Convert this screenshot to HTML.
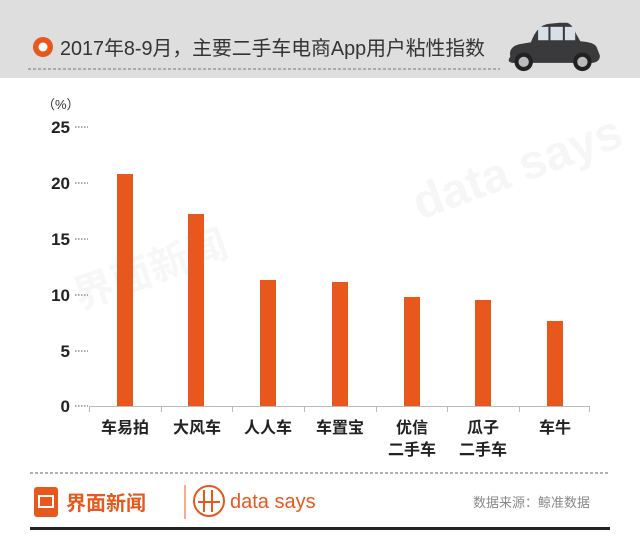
<!DOCTYPE html>
<html><head><meta charset="utf-8"><style>
body{margin:0;width:640px;height:544px;background:#fff;overflow:hidden;font-family:"Liberation Sans","Noto Sans CJK SC",sans-serif}
</style></head><body>
<svg width="640" height="544" xmlns="http://www.w3.org/2000/svg" font-family="Liberation Sans, Noto Sans CJK SC, sans-serif">
<rect x="0" y="0" width="640" height="78" fill="#dedede"/>
<circle cx="43" cy="47" r="10" fill="#e8571c"/>
<circle cx="43" cy="47" r="4.5" fill="#fff"/>
<text x="60" y="55" font-size="20" fill="#333" textLength="425" lengthAdjust="spacingAndGlyphs">2017年8-9月，主要二手车电商App用户粘性指数</text>
<line x1="28" y1="69" x2="500" y2="69" stroke="#777" stroke-width="1" stroke-dasharray="3,2"/>
<!-- car -->
<g transform="translate(88,-2) scale(1.03)">
<path d="M410 57 Q408 48 418 45 L430 43 Q436 26 448 25 L458 24 L465 24 Q470 25 474 35 L478 42 Q492 43 494 48 L497 56 Q497 62 490 63 L412 63 Q406 62 410 57 Z" fill="#3a3a3c"/>
<rect x="437" y="28" width="10" height="13" fill="#d8dfe6"/>
<rect x="449" y="28" width="12" height="13" fill="#d8dfe6"/>
<rect x="463" y="28" width="10" height="13" fill="#d8dfe6"/>
<circle cx="423" cy="62" r="9" fill="#222"/><circle cx="423" cy="62" r="5" fill="#bbb"/>
<circle cx="480" cy="62" r="9" fill="#222"/><circle cx="480" cy="62" r="5" fill="#bbb"/>
</g>
<!-- watermark -->
<g font-weight="bold">
<text x="80" y="310" font-size="40" fill="#f7f7f7" transform="rotate(-20 80 310)">界面新闻</text>
<text x="420" y="220" font-size="48" fill="#f6f6f6" transform="rotate(-20 420 220)">data says</text>
</g>
<text x="42" y="109" font-size="13" fill="#333">（%）</text>
<g font-size="17" font-weight="bold" fill="#222" text-anchor="end">
<text x="70" y="133">25</text><text x="70" y="189">20</text><text x="70" y="245">15</text>
<text x="70" y="301">10</text><text x="70" y="357">5</text><text x="70" y="412">0</text>
</g>
<g stroke="#555" stroke-dasharray="1.5,1.5" stroke-width="1">
<line x1="75" y1="127" x2="88" y2="127"/><line x1="75" y1="183" x2="88" y2="183"/>
<line x1="75" y1="239" x2="88" y2="239"/><line x1="75" y1="295" x2="88" y2="295"/>
<line x1="75" y1="351" x2="88" y2="351"/><line x1="75" y1="406" x2="88" y2="406"/>
</g>
<g fill="#e8571c">
<rect x="117" y="174" width="16" height="232"/>
<rect x="188" y="214" width="16" height="192"/>
<rect x="260" y="280" width="16" height="126"/>
<rect x="332" y="282" width="16" height="124"/>
<rect x="404" y="297" width="16" height="109"/>
<rect x="475" y="300" width="16" height="106"/>
<rect x="547" y="321" width="16" height="85"/>
</g>
<g stroke="#bbb" stroke-width="1">
<line x1="89" y1="406.5" x2="590" y2="406.5"/>
<line x1="89.5" y1="406" x2="89.5" y2="412"/><line x1="161.5" y1="406" x2="161.5" y2="412"/>
<line x1="232.5" y1="406" x2="232.5" y2="412"/><line x1="304.5" y1="406" x2="304.5" y2="412"/>
<line x1="376.5" y1="406" x2="376.5" y2="412"/><line x1="447.5" y1="406" x2="447.5" y2="412"/>
<line x1="519.5" y1="406" x2="519.5" y2="412"/><line x1="589.5" y1="406" x2="589.5" y2="412"/>
</g>
<g font-size="16" font-weight="bold" fill="#222" text-anchor="middle">
<text x="125" y="433">车易拍</text><text x="197" y="433">大风车</text><text x="268" y="433">人人车</text>
<text x="340" y="433">车置宝</text><text x="412" y="433">优信</text><text x="412" y="455">二手车</text>
<text x="483" y="433">瓜子</text><text x="483" y="455">二手车</text><text x="555" y="433">车牛</text>
</g>
<line x1="30" y1="473" x2="610" y2="473" stroke="#666" stroke-dasharray="3,2"/>
<rect x="34" y="487" width="24" height="30" rx="3" fill="#e8571c"/>
<rect x="39" y="496" width="14" height="11" fill="none" stroke="#fff" stroke-width="2"/>
<text x="66" y="510" font-size="20" font-weight="bold" fill="#e8571c">界面新闻</text>
<line x1="185" y1="485" x2="185" y2="519" stroke="#e8571c" stroke-width="1"/>
<circle cx="209" cy="501" r="15" fill="none" stroke="#e8571c" stroke-width="2"/>
<g stroke="#e8571c" stroke-width="2"><line x1="204" y1="490" x2="204" y2="512"/><line x1="212" y1="490" x2="212" y2="512"/><line x1="198" y1="502" x2="220" y2="502"/></g>
<text x="230" y="508" font-size="20" fill="#e8571c">data says</text>
<text x="590" y="507" font-size="13" fill="#888" text-anchor="end">数据来源：鲸准数据</text>
<rect x="30" y="527" width="580" height="3" fill="#222"/>
</svg>
</body></html>
